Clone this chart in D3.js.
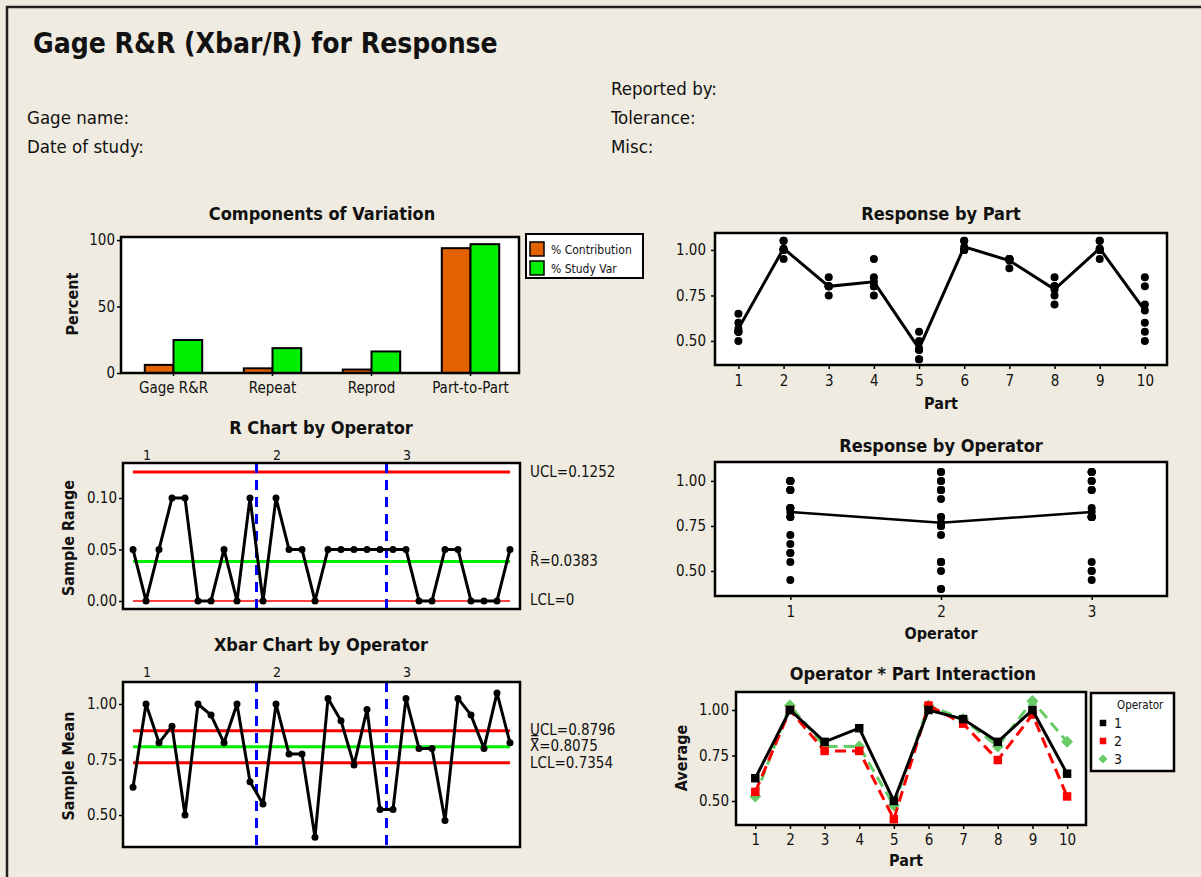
<!DOCTYPE html>
<html><head><meta charset="utf-8">
<script src="https://cdn.jsdelivr.net/npm/d3@7"></script>
<style>
html,body{margin:0;padding:0;background:#efebe0;}
svg text{font-family:'DejaVu Sans Condensed','DejaVu Sans',sans-serif;font-stretch:condensed;fill:#111;}
</style></head><body>
<svg id="c" width="1201" height="877"></svg>
<script>
// ---------------- DATA ----------------
const parts = [1,2,3,4,5,6,7,8,9,10];
const operators = [1,2,3];
const op1Trial1 = [0.65,1.00,0.85,0.85,0.55,1.00,0.95,0.85,1.00,0.60];
const op1Trial2 = [0.60,1.00,0.80,0.95,0.45,1.00,0.95,0.80,1.00,0.70];
const op2Trial1 = [0.55,1.05,0.80,0.80,0.40,1.00,0.95,0.75,1.00,0.55];
const op2Trial2 = [0.55,0.95,0.75,0.75,0.40,1.05,0.90,0.70,0.95,0.50];
const op3Trial1 = [0.50,1.05,0.80,0.80,0.45,1.00,0.95,0.80,1.05,0.85];
const op3Trial2 = [0.55,1.00,0.80,0.80,0.50,1.05,0.95,0.80,1.05,0.80];
const op1Means = [0.625,1.000,0.825,0.900,0.500,1.000,0.950,0.825,1.000,0.650];
const op2Means = [0.550,1.000,0.775,0.775,0.400,1.025,0.925,0.725,0.975,0.525];
const op3Means = [0.525,1.025,0.800,0.800,0.475,1.025,0.950,0.800,1.050,0.825];
const op1Ranges = [0.05,0.00,0.05,0.10,0.10,0.00,0.00,0.05,0.00,0.10];
const op2Ranges = [0.00,0.10,0.05,0.05,0.00,0.05,0.05,0.05,0.05,0.05];
const op3Ranges = [0.05,0.05,0.00,0.00,0.05,0.05,0.00,0.00,0.00,0.05];
const partMeans = [0.5667,1.0083,0.8000,0.8250,0.4583,1.0167,0.9417,0.7833,1.0083,0.6667];
const operatorMeans = [0.8275,0.7675,0.8275];
const rLimits = {UCL:0.1252, center:0.0383, LCL:0};
const xLimits = {UCL:0.8796, center:0.8075, LCL:0.7354};
const compCategories = ["Gage R&R","Repeat","Reprod","Part-to-Part"];
const compSeries = ["% Contribution","% Study Var"];
const pctContribution = [6.1,3.5,2.6,93.9];
const pctStudyVar = [24.8,18.7,16.2,96.9];
const percentTicks = [0,50,100];
const responseTicks = [0.50,0.75,1.00];
const rangeTicks = [0.00,0.05,0.10];

// ---------------- SETUP ----------------
const svg = d3.select("#c");
svg.append("rect").attr("width",1201).attr("height",877).attr("fill","#efebe0");
svg.append("path").attr("d","M7,877V7H1201").attr("fill","none").attr("stroke","#222").attr("stroke-width",2.5);

const TICK = 15, TITLE = 18, AXT = 16;
function txt(x,y,s,size,opts={}){
  const t = svg.append("text").attr("x",x).attr("y",y).attr("font-size",size).text(s);
  if(opts.bold) t.attr("font-weight","bold");
  if(opts.anchor) t.attr("text-anchor",opts.anchor);
  if(opts.rotate) t.attr("transform",`rotate(-90,${x},${y})`);
  return t;
}
function frameBg(x0,y0,x1,y1){svg.append("rect").attr("x",x0).attr("y",y0).attr("width",x1-x0).attr("height",y1-y0).attr("fill","#fff");}
function frameBorder(x0,y0,x1,y1){svg.append("rect").attr("x",x0).attr("y",y0).attr("width",x1-x0).attr("height",y1-y0).attr("fill","none").attr("stroke","#000").attr("stroke-width",2.5);}
function styleAxis(g,size){
  g.select(".domain").remove();
  g.attr("font-size",size);
  g.selectAll("line").attr("stroke","#000").attr("stroke-width",1.5);
  g.selectAll("text").style("fill","#111");
}
function yAxisAt(scale,x,ticks,fmt,pad=4){
  const g = svg.append("g").attr("transform",`translate(${x},0)`)
    .call(d3.axisLeft(scale).tickValues(ticks).tickFormat(fmt).tickSize(4).tickPadding(pad));
  styleAxis(g,TICK); return g;
}
function xAxisAt(scale,y,ticks,fmt,pad=5){
  const g = svg.append("g").attr("transform",`translate(0,${y})`)
    .call(d3.axisBottom(scale).tickValues(ticks).tickFormat(fmt).tickSize(4).tickPadding(pad));
  styleAxis(g,TICK); return g;
}
const f2 = d3.format(".2f");

// ---------------- HEADER ----------------
txt(33,53,"Gage R&R (Xbar/R) for Response",28,{bold:true});
txt(27,124,"Gage name:",18.5);
txt(27,153,"Date of study:",18.5);
txt(611,95,"Reported by:",18.5);
txt(611,124,"Tolerance:",18.5);
txt(611,153,"Misc:",18.5);

// ---------------- COMPONENTS OF VARIATION ----------------
(function(){
  const X0=121,X1=519,Y0=237,Y1=373;
  txt(322,220,"Components of Variation",TITLE,{bold:true,anchor:"middle"});
  frameBg(X0,Y0,X1,Y1);
  const x0 = d3.scaleBand().domain(compCategories).range([124,520]).paddingInner(0.42).paddingOuter(0.21);
  const x1 = d3.scaleBand().domain(compSeries).range([0,x0.bandwidth()]);
  const y = d3.scaleLinear().domain([0,102.3]).range([Y1,Y0]);
  const color = d3.scaleOrdinal().domain(compSeries).range(["#e36200","#00ee00"]);
  const rows = compCategories.map((c,i)=>({cat:c, vals:[{s:compSeries[0],v:pctContribution[i]},{s:compSeries[1],v:pctStudyVar[i]}]}));
  svg.append("g").selectAll("g").data(rows).join("g")
    .attr("transform",d=>`translate(${x0(d.cat)},0)`)
    .selectAll("rect").data(d=>d.vals).join("rect")
    .attr("x",d=>x1(d.s)).attr("width",x1.bandwidth())
    .attr("y",d=>y(d.v)).attr("height",d=>y(0)-y(d.v))
    .attr("fill",d=>color(d.s)).attr("stroke","#000").attr("stroke-width",2);
  frameBorder(X0,Y0,X1,Y1);
  yAxisAt(y,X0,percentTicks,d3.format("d"),2);
  const gx = svg.append("g").attr("transform",`translate(0,${Y1})`)
    .call(d3.axisBottom(x0).tickSize(3).tickPadding(6));
  styleAxis(gx,TICK);
  txt(78,304,"Percent",AXT,{bold:true,anchor:"middle",rotate:true});
  // legend
  svg.append("rect").attr("x",526).attr("y",234).attr("width",117).attr("height",44).attr("fill","#fff").attr("stroke","#000").attr("stroke-width",2);
  compSeries.forEach((s,i)=>{
    svg.append("rect").attr("x",530).attr("y",242+i*19).attr("width",14).attr("height",14).attr("fill",color(s)).attr("stroke","#000").attr("stroke-width",1.5);
    txt(551,254+i*19,s,12);
  });
})();

// ---------------- CONTROL CHARTS ----------------
const sgX = d3.scaleLinear().domain([0.23,30.77]);
function controlChart(opts){
  const {X0,X1,Y0,Y1,y,values,limits,lineW,title,titleY,labelY,yTicks,yLabel,yLabelY,limitLabels,limitYs} = opts;
  const x = sgX.copy().range([X0,X1]);
  txt(321,titleY,title,TITLE,{bold:true,anchor:"middle"});
  frameBg(X0,Y0,X1,Y1);
  const lim = [[limits.UCL,"#ff0000",3],[limits.center,"#00ee00",3],[limits.LCL,"#ff0000",lineW]];
  svg.append("g").selectAll("line").data(lim).join("line")
    .attr("x1",x(1)).attr("x2",x(30)).attr("y1",d=>y(d[0])).attr("y2",d=>y(d[0]))
    .attr("stroke",d=>d[1]).attr("stroke-width",d=>d[2]);
  [10.5,20.5].forEach(b=>{
    svg.append("line").attr("x1",x(b)).attr("x2",x(b)).attr("y1",Y0).attr("y2",Y1)
      .attr("stroke","#0000ff").attr("stroke-width",3).attr("stroke-dasharray","10,7");
  });
  const pts = values.map((v,i)=>({i:i+1,v}));
  svg.append("path").datum(pts).attr("fill","none").attr("stroke","#000").attr("stroke-width",3)
    .attr("stroke-linejoin","round")
    .attr("d",d3.line().x(d=>x(d.i)).y(d=>y(d.v)));
  svg.append("g").selectAll("circle").data(pts).join("circle")
    .attr("cx",d=>x(d.i)).attr("cy",d=>y(d.v)).attr("r",3.5).attr("fill","#000");
  frameBorder(X0,Y0,X1,Y1);
  yAxisAt(y,X0,yTicks,f2,2);
  operators.forEach((o,k)=>txt(x(1+k*10)+14,labelY,String(o),14,{anchor:"middle"}));
  txt(74,yLabelY,yLabel,AXT,{bold:true,anchor:"middle",rotate:true});
  limitLabels.forEach((s,k)=>txt(530,limitYs[k],s,15));
}
controlChart({X0:123,X1:520,Y0:463,Y1:609,
  y:d3.scaleLinear().domain([-0.0078,0.134]).range([609,463]),
  values:[...op1Ranges,...op2Ranges,...op3Ranges], limits:rLimits, lineW:1.5,
  title:"R Chart by Operator", titleY:434, labelY:460, yTicks:rangeTicks,
  yLabel:"Sample Range", yLabelY:538,
  limitLabels:["UCL=0.1252","R\u0304=0.0383","LCL=0"], limitYs:[477,566,605]});

controlChart({X0:123,X1:520,Y0:682,Y1:847,
  y:d3.scaleLinear().domain([0.356,1.099]).range([847,682]),
  values:[...op1Means,...op2Means,...op3Means], limits:xLimits, lineW:3,
  title:"Xbar Chart by Operator", titleY:651, labelY:677, yTicks:responseTicks,
  yLabel:"Sample Mean", yLabelY:766,
  limitLabels:["UCL=0.8796","X\u033F=0.8075","LCL=0.7354"], limitYs:[735,751,768]});

// ---------------- RESPONSE BY PART ----------------
const allTrials = [op1Trial1,op1Trial2,op2Trial1,op2Trial2,op3Trial1,op3Trial2];
(function(){
  const X0=715,X1=1167,Y0=233,Y1=365;
  txt(941,220,"Response by Part",TITLE,{bold:true,anchor:"middle"});
  frameBg(X0,Y0,X1,Y1);
  const x = d3.scaleLinear().domain([0.482,10.49]).range([X0,X1]);
  const y = d3.scaleLinear().domain([0.368,1.093]).range([Y1,Y0]);
  const pts = [];
  parts.forEach((p,i)=>allTrials.forEach(t=>pts.push({p,v:t[i]})));
  svg.append("g").selectAll("circle").data(pts).join("circle")
    .attr("cx",d=>x(d.p)).attr("cy",d=>y(d.v)).attr("r",4).attr("fill","#000");
  const mp = parts.map((p,i)=>({p,v:partMeans[i]}));
  svg.append("path").datum(mp).attr("fill","none").attr("stroke","#000").attr("stroke-width",3)
    .attr("d",d3.line().x(d=>x(d.p)).y(d=>y(d.v)));
  svg.append("g").selectAll("circle").data(mp).join("circle")
    .attr("cx",d=>x(d.p)).attr("cy",d=>y(d.v)).attr("r",4).attr("fill","#000");
  frameBorder(X0,Y0,X1,Y1);
  yAxisAt(y,X0,responseTicks,f2,5);
  xAxisAt(x,Y1,parts,d3.format("d"),6);
  txt(941,409,"Part",AXT,{bold:true,anchor:"middle"});
})();

// ---------------- RESPONSE BY OPERATOR ----------------
(function(){
  const X0=715,X1=1167,Y0=462,Y1=596;
  txt(941,452,"Response by Operator",TITLE,{bold:true,anchor:"middle"});
  frameBg(X0,Y0,X1,Y1);
  const x = d3.scaleLinear().domain([0.5,3.5]).range([X0,X1]);
  const y = d3.scaleLinear().domain([0.361,1.105]).range([Y1,Y0]);
  const byOp = [[op1Trial1,op1Trial2],[op2Trial1,op2Trial2],[op3Trial1,op3Trial2]];
  const pts = [];
  operators.forEach((o,k)=>byOp[k].forEach(t=>t.forEach(v=>pts.push({o,v}))));
  svg.append("g").selectAll("circle").data(pts).join("circle")
    .attr("cx",d=>x(d.o)).attr("cy",d=>y(d.v)).attr("r",4).attr("fill","#000");
  const mp = operators.map((o,k)=>({o,v:operatorMeans[k]}));
  svg.append("path").datum(mp).attr("fill","none").attr("stroke","#000").attr("stroke-width",2.5)
    .attr("d",d3.line().x(d=>x(d.o)).y(d=>y(d.v)));
  svg.append("g").selectAll("circle").data(mp).join("circle")
    .attr("cx",d=>x(d.o)).attr("cy",d=>y(d.v)).attr("r",4).attr("fill","#000");
  frameBorder(X0,Y0,X1,Y1);
  yAxisAt(y,X0,responseTicks,f2,5);
  xAxisAt(x,Y1,operators,d3.format("d"),6);
  txt(941,639,"Operator",AXT,{bold:true,anchor:"middle"});
})();

// ---------------- INTERACTION ----------------
(function(){
  const X0=736,X1=1086,Y0=692,Y1=825;
  txt(913,680,"Operator * Part Interaction",TITLE,{bold:true,anchor:"middle"});
  frameBg(X0,Y0,X1,Y1);
  const x = d3.scaleLinear().domain([0.443,10.546]).range([X0,X1]);
  const y = d3.scaleLinear().domain([0.368,1.099]).range([Y1,Y0]);
  const series = [
    {name:"1",vals:op1Means,color:"#000000",dash:null,rot:0},
    {name:"2",vals:op2Means,color:"#ff0000",dash:"11,6",rot:0},
    {name:"3",vals:op3Means,color:"#66cc66",dash:"11,6",rot:45}
  ];
  const sym = d3.symbol().type(d3.symbolSquare).size(72);
  const legSym = d3.symbol().type(d3.symbolSquare).size(42);
  [series[2],series[1],series[0]].forEach(s=>{
    const pts = parts.map((p,i)=>({p,v:s.vals[i]}));
    const path = svg.append("path").datum(pts).attr("fill","none").attr("stroke",s.color).attr("stroke-width",3)
      .attr("d",d3.line().x(d=>x(d.p)).y(d=>y(d.v)));
    if(s.dash) path.attr("stroke-dasharray",s.dash);
    svg.append("g").selectAll("path").data(pts).join("path")
      .attr("transform",d=>`translate(${x(d.p)},${y(d.v)}) rotate(${s.rot})`)
      .attr("d",sym).attr("fill",s.color);
  });
  frameBorder(X0,Y0,X1,Y1);
  yAxisAt(y,X0,responseTicks,f2,3);
  xAxisAt(x,Y1,parts,d3.format("d"),5);
  txt(906,866,"Part",AXT,{bold:true,anchor:"middle"});
  txt(687,758,"Average",AXT,{bold:true,anchor:"middle",rotate:true});
  svg.append("rect").attr("x",1091).attr("y",693).attr("width",83).attr("height",78).attr("fill","#fff").attr("stroke","#000").attr("stroke-width",2.5);
  txt(1117,709,"Operator",11.5);
  series.forEach((s,k)=>{
    const yy = 723+k*18;
    svg.append("path").attr("transform",`translate(1103,${yy}) rotate(${s.rot})`).attr("d",legSym).attr("fill",s.color);
    txt(1114,yy+5,s.name,14);
  });
})();
</script>
</body></html>
